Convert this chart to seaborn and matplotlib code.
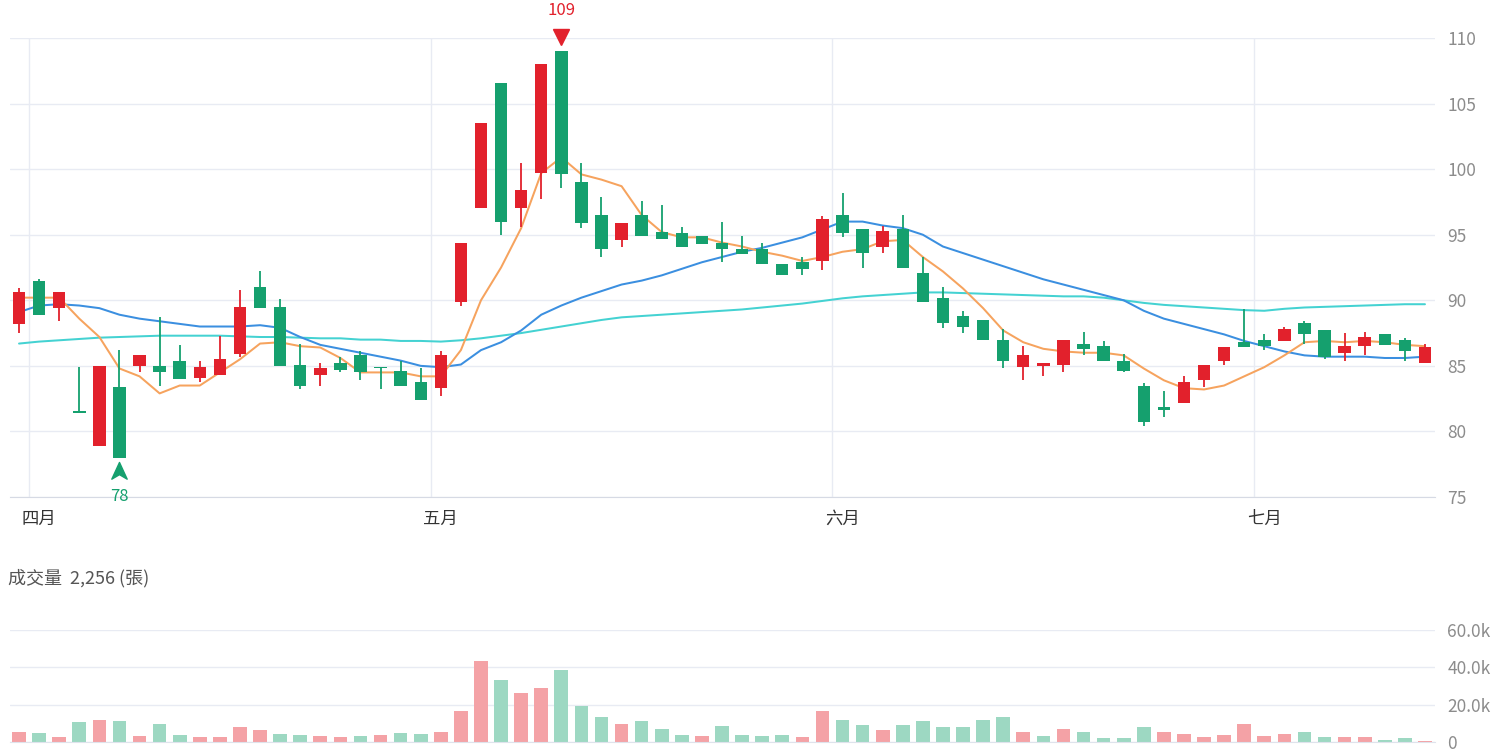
import numpy as np
import pandas as pd
import matplotlib
matplotlib.use("Agg")
import matplotlib.pyplot as plt
import matplotlib.transforms as mtrans
from matplotlib.path import Path
from matplotlib.ticker import FuncFormatter
import seaborn as sns

# ---------------- data ----------------
month_labels = ["三月", "四月", "五月", "六月", "七月"]
month_days = [1, 20, 20, 21, 9]          # trading days shown per month

opens = [88.2, 91.5, 89.4, 81.5, 78.9, 83.4, 85.0, 85.0, 85.4, 84.1,
         84.3, 85.9, 91.0, 89.5, 85.1, 84.3, 85.2, 85.8, 84.9, 84.6,
         83.8, 83.3, 89.9, 97.0, 106.6, 97.0, 99.7, 109.0, 99.0, 96.5,
         94.6, 96.5, 95.2, 95.1, 94.9, 94.4, 93.9, 93.9, 92.8, 92.9,
         93.0, 96.5, 95.4, 94.1, 95.4, 92.1, 90.2, 88.8, 88.5, 87.0,
         84.9, 85.0, 85.1, 86.7, 86.5, 85.4, 83.5, 81.9, 82.2, 83.9,
         85.4, 86.8, 87.0, 86.9, 88.3, 87.7, 86.0, 86.5, 87.4, 87.0,
         85.2]
closes = [90.6, 88.9, 90.6, 81.4, 85.0, 78.0, 85.8, 84.5, 84.0, 84.9,
          85.5, 89.5, 89.4, 85.0, 83.5, 84.8, 84.7, 84.5, 84.8, 83.5,
          82.4, 85.8, 94.4, 103.5, 96.0, 98.4, 108.0, 99.6, 95.9, 93.9,
          95.9, 94.9, 94.7, 94.1, 94.3, 93.9, 93.5, 92.8, 91.9, 92.4,
          96.2, 95.1, 93.6, 95.3, 92.5, 89.9, 88.3, 88.0, 87.0, 85.4,
          85.8, 85.2, 87.0, 86.3, 85.4, 84.6, 80.7, 81.6, 83.8, 85.1,
          86.4, 86.4, 86.5, 87.8, 87.4, 85.7, 86.5, 87.2, 86.6, 86.1,
          86.4]
highs = [90.9, 91.6, 90.6, 84.9, 85.0, 86.2, 85.8, 88.7, 86.6, 85.4,
         87.3, 90.8, 92.2, 90.1, 86.7, 85.2, 85.7, 86.1, 84.9, 85.4,
         84.8, 86.1, 94.4, 103.5, 106.6, 100.5, 108.0, 109.0, 100.5, 97.9,
         95.9, 97.6, 97.3, 95.6, 94.9, 96.0, 94.9, 94.4, 92.8, 93.3,
         96.4, 98.2, 95.4, 95.7, 96.5, 93.3, 91.0, 89.2, 88.5, 87.8,
         86.5, 85.2, 87.0, 87.6, 86.9, 85.9, 83.7, 83.1, 84.2, 85.1,
         86.4, 89.3, 87.4, 88.0, 88.4, 87.7, 87.5, 87.6, 87.4, 87.1,
         86.7]
lows = [87.5, 88.9, 88.4, 81.4, 78.9, 78.0, 84.5, 83.5, 84.0, 83.8,
        84.3, 85.7, 89.4, 85.0, 83.2, 83.5, 84.5, 83.9, 83.2, 83.5,
        82.4, 82.7, 89.6, 97.0, 95.0, 95.6, 97.7, 98.6, 95.5, 93.3,
        94.1, 94.9, 94.7, 94.1, 94.3, 92.9, 93.5, 92.8, 91.9, 91.9,
        92.3, 94.8, 92.5, 93.6, 92.5, 89.9, 87.9, 87.5, 87.0, 84.8,
        83.9, 84.2, 84.5, 85.8, 85.4, 84.5, 80.4, 81.1, 82.2, 83.4,
        85.1, 86.4, 86.2, 86.9, 86.7, 85.5, 85.4, 85.8, 86.6, 85.4,
        85.2]

ma5 = [90.2, 90.2, 90.2, 88.6, 87.2, 84.8, 84.2, 82.9, 83.5, 83.5,
       84.5, 85.5, 86.7, 86.8, 86.5, 86.4, 85.6, 84.5, 84.5, 84.5,
       84.2, 84.2, 86.2, 90.0, 92.5, 95.5, 99.7, 100.9, 99.6, 99.2,
       98.7, 96.5, 95.2, 94.8, 94.8, 94.4, 94.1, 93.7, 93.4, 93.0,
       93.3, 93.7, 93.9, 94.5, 94.6, 93.3, 92.2, 90.9, 89.4, 87.7,
       86.8, 86.3, 86.1, 86.0, 86.0, 85.8, 84.8, 83.9, 83.3, 83.2,
       83.5, 84.2, 84.9, 85.8, 86.8, 86.9, 86.8, 86.9, 86.8, 86.6,
       86.5]
ma20 = [89.1, 89.6, 89.7, 89.6, 89.4, 88.9, 88.6, 88.4, 88.2, 88.0,
        88.0, 88.0, 88.1, 87.9, 87.2, 86.6, 86.3, 86.0, 85.7, 85.4,
        85.0, 84.9, 85.1, 86.2, 86.8, 87.7, 88.9, 89.6, 90.2, 90.7,
        91.2, 91.5, 91.9, 92.4, 92.9, 93.3, 93.7, 94.0, 94.4, 94.8,
        95.4, 96.0, 96.0, 95.7, 95.5, 95.0, 94.1, 93.6, 93.1, 92.6,
        92.1, 91.6, 91.2, 90.8, 90.4, 90.0, 89.2, 88.6, 88.2, 87.8,
        87.4, 86.9, 86.5, 86.1, 85.8, 85.7, 85.7, 85.7, 85.6, 85.6,
        85.7]
ma60 = [86.7, 86.85, 86.95, 87.05, 87.15, 87.2, 87.25, 87.3, 87.3, 87.3,
        87.3, 87.25, 87.2, 87.2, 87.15, 87.1, 87.1, 87.0, 87.0, 86.9,
        86.9, 86.85, 86.95, 87.1, 87.3, 87.5, 87.75, 88.0, 88.25, 88.5,
        88.7, 88.8, 88.9, 89.0, 89.1, 89.2, 89.3, 89.45, 89.6, 89.75,
        89.95, 90.15, 90.3, 90.4, 90.5, 90.6, 90.6, 90.55, 90.5, 90.45,
        90.4, 90.35, 90.3, 90.3, 90.2, 90.0, 89.8, 89.65, 89.55, 89.45,
        89.35, 89.25, 89.2, 89.35, 89.45, 89.5, 89.55, 89.6, 89.65, 89.7,
        89.7]

volume_k = [5.2, 5.0, 2.5, 10.5, 11.7, 11.2, 3.4, 9.6, 3.9, 2.8,
            2.8, 8.2, 6.4, 4.3, 3.7, 3.4, 2.7, 3.0, 3.7, 4.6,
            4.1, 5.3, 16.7, 43.4, 33.1, 26.0, 29.0, 38.4, 19.2, 13.5,
            9.6, 11.4, 7.1, 3.6, 3.4, 8.7, 3.6, 3.2, 3.6, 2.7,
            16.5, 11.7, 8.9, 6.2, 9.1, 11.4, 8.2, 8.2, 11.7, 13.5,
            5.5, 3.4, 6.9, 5.2, 2.3, 2.1, 8.2, 5.2, 4.4, 2.8,
            3.6, 9.9, 3.4, 4.3, 5.5, 2.8, 2.7, 2.8, 1.1, 2.1,
            0.8]
# 1 = close above previous close (red), 0 = below (green)
volume_up = [1, 0, 1, 0, 1, 0, 1, 0, 0, 1,
             1, 1, 1, 0, 0, 1, 1, 0, 1, 0,
             0, 1, 1, 1, 0, 1, 1, 0, 0, 0,
             1, 0, 0, 0, 1, 0, 0, 0, 0, 1,
             1, 0, 0, 1, 0, 0, 0, 0, 0, 0,
             1, 0, 1, 0, 0, 0, 0, 1, 1, 1,
             1, 1, 1, 1, 0, 0, 1, 1, 0, 0,
             1]

volume_title = "成交量  2,256 (張)"
price_ticks = [75, 80, 85, 90, 95, 100, 105, 110]
vol_ticks = [0, 20000, 40000, 60000]

# ---------------- style ----------------
sns.set_style("white")
plt.rcParams['font.family'] = ['Noto Sans CJK TC', 'DejaVu Sans']

RED = "#e2212c"
GREEN = "#15a06e"
RED_L = "#f4a2a6"
GREEN_L = "#9dd8c2"
GRID = "#e8ebf3"
C_MA5 = "#f6a35e"
C_MA20 = "#3b8fe0"
C_MA60 = "#44d2d2"

n = len(opens)
df = pd.DataFrame({"i": np.arange(n), "open": opens, "close": closes,
                   "high": highs, "low": lows, "ma5": ma5, "ma20": ma20,
                   "ma60": ma60, "vol": np.array(volume_k) * 1000,
                   "vup": volume_up})
df["up"] = df["close"] >= df["open"]

fig = plt.figure(figsize=(15, 7.5), dpi=100)
ax = fig.add_axes([10 / 1500, 1 - 497 / 750, 1425 / 1500, (497 - 38) / 750])
axv = fig.add_axes([10 / 1500, 1 - 742 / 750, 1425 / 1500, (742 - 630) / 750])

# ---------------- price panel ----------------
starts = np.cumsum([0] + month_days[:-1])
for s in starts[1:]:
    ax.axvline(s - 0.5, color=GRID, lw=1, zorder=0)
ax.set_yticks(price_ticks)
ax.grid(axis='y', color=GRID, lw=1)
ax.set_axisbelow(True)

for col, c in [("ma60", C_MA60), ("ma20", C_MA20), ("ma5", C_MA5)]:
    sns.lineplot(data=df, x="i", y=col, ax=ax, color=c, lw=1.45, zorder=2)

ccol = np.where(df["up"], RED, GREEN)
ax.vlines(df["i"], df["low"], df["high"], colors=ccol, lw=1.3, zorder=3)
body_lo = np.minimum(df["open"], df["close"])
body_h = np.maximum(np.abs(df["close"] - df["open"]), 0.15)
ax.bar(df["i"], body_h, bottom=body_lo, width=0.62, color=ccol, zorder=4,
       linewidth=0)

ax.set_xlim(-0.45, n - 0.5)
ax.set_ylim(price_ticks[0], price_ticks[-1])
ax.set_xlabel("")
ax.set_ylabel("")
for sp in ["top", "left", "right"]:
    ax.spines[sp].set_visible(False)
ax.spines["bottom"].set_color("#d6dae4")
ax.yaxis.tick_right()
ax.tick_params(axis='y', length=0, pad=9, labelcolor="#8c8c8c", labelsize=12.5)
ax.set_xticks(starts[1:])
ax.set_xticklabels(month_labels[1:])
ax.tick_params(axis='x', length=0, pad=9, labelcolor="#333333", labelsize=12.5)

# high / low markers
hi_i = int(np.argmax(highs))
lo_i = int(np.argmin(lows))
tr_hi = mtrans.offset_copy(ax.transData, fig=fig, x=0, y=10, units='points')
ax.plot([hi_i], [highs[hi_i]], marker='v', ms=11, color=RED,
        transform=tr_hi, clip_on=False, zorder=5)
ax.annotate(f"{highs[hi_i]:g}", xy=(hi_i, highs[hi_i]), xytext=(0, 29.5),
            textcoords='offset points', ha='center', va='center',
            color=RED, fontsize=12, annotation_clip=False)
arrow = Path([(0, 1), (0.85, -0.85), (0, -0.35), (-0.85, -0.85), (0, 1)],
             [Path.MOVETO, Path.LINETO, Path.LINETO, Path.LINETO, Path.CLOSEPOLY])
tr_lo = mtrans.offset_copy(ax.transData, fig=fig, x=0, y=-9.5, units='points')
ax.plot([lo_i], [lows[lo_i]], marker=arrow, ms=13, color=GREEN,
        transform=tr_lo, clip_on=False, zorder=5, lw=0)
ax.annotate(f"{lows[lo_i]:g}", xy=(lo_i, lows[lo_i]), xytext=(0, -28),
            textcoords='offset points', ha='center', va='center',
            color=GREEN, fontsize=12, annotation_clip=False)

# ---------------- volume panel ----------------
vcol = np.where(df["vup"] == 1, RED_L, GREEN_L)
axv.set_yticks(vol_ticks)
axv.grid(axis='y', color=GRID, lw=1)
axv.set_axisbelow(True)
axv.bar(df["i"], df["vol"], width=0.68, color=vcol, linewidth=0, zorder=2)
axv.set_xlim(-0.45, n - 0.5)
axv.set_ylim(vol_ticks[0], vol_ticks[-1])
for sp in ["top", "left", "right"]:
    axv.spines[sp].set_visible(False)
axv.spines["bottom"].set_color("#dfe3ec")
axv.set_xticks([])
axv.yaxis.tick_right()
axv.yaxis.set_major_formatter(FuncFormatter(
    lambda v, p: "0" if v == 0 else f"{v / 1000:.1f}k"))
axv.tick_params(axis='y', length=0, pad=9, labelcolor="#8c8c8c", labelsize=12.5)

fig.text(8 / 1500, 1 - 578 / 750, volume_title, ha='left', va='center',
         fontsize=13, color="#555555")

fig.savefig("out.png", dpi=100)
